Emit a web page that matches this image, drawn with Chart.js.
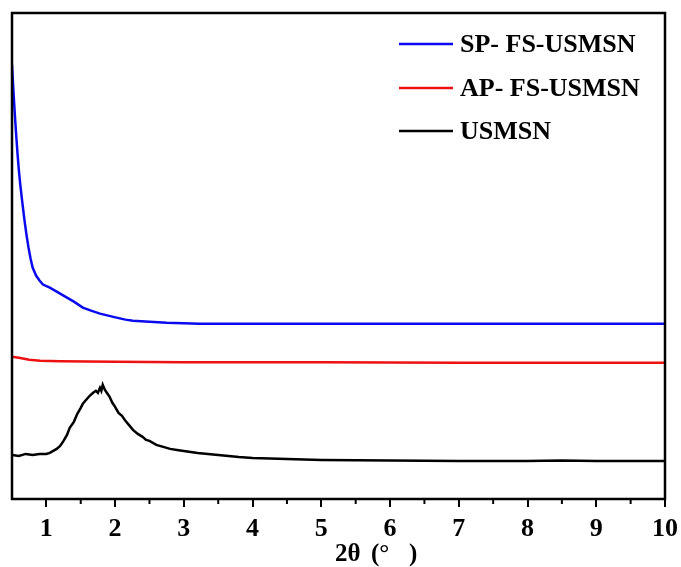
<!DOCTYPE html>
<html>
<head>
<meta charset="utf-8">
<script src="https://cdn.jsdelivr.net/npm/chart.js@4.4.1/dist/chart.umd.min.js"></script>
<style>
  html, body { margin: 0; padding: 0; background: #fff; }
  #wrap { width: 681px; height: 567px; position: relative; }
</style>
</head>
<body>
<div id="wrap"><canvas id="xrd"></canvas></div>
<script>
// 2θ (degrees) and intensity (a.u.)
const spX = [0.5, 0.52, 0.54, 0.56, 0.58, 0.6, 0.62, 0.65, 0.68, 0.71, 0.74, 0.77, 0.8, 0.85, 0.9, 0.95, 1.05, 1.15, 1.3, 1.4, 1.53, 1.65, 1.78, 1.9, 2.02, 2.15, 2.26, 2.5, 2.75, 3.0, 3.23, 3.6, 4.5, 6, 8, 10];
const spY = [433, 408, 385, 364, 345, 328, 314, 296, 279, 264, 251, 240, 231, 223, 218, 214, 211, 207, 201, 197, 191, 188, 185, 183, 181, 179, 178, 177, 176, 175.5, 175, 175, 175, 175, 175, 175];

const apX = [0.5, 0.6, 0.75, 0.91, 1.2, 2, 3, 5, 7, 10];
const apY = [142, 141, 139, 138, 137.5, 137, 136.5, 136.5, 136, 136];

const usX = [0.5, 0.6, 0.7, 0.8, 0.9, 1.0, 1.05, 1.1, 1.15, 1.2, 1.25, 1.3, 1.34, 1.4, 1.45, 1.5, 1.53, 1.58, 1.63, 1.68, 1.72, 1.75, 1.78, 1.8, 1.82, 1.85, 1.88, 1.92, 1.96, 2.0, 2.05, 2.1, 2.15, 2.2, 2.26, 2.33, 2.4, 2.45, 2.5, 2.6, 2.7, 2.8, 2.9, 3.0, 3.2, 3.5, 3.8, 4.0, 4.5, 5.0, 6.0, 7.0, 8.0, 8.5, 9.0, 10];
const usY = [44, 43, 45, 44, 45, 45, 46, 48, 50, 53, 58, 64, 71, 77, 85, 91, 95, 99, 103, 106, 108, 106, 111, 108, 114, 109, 106, 102, 96, 92, 86, 83, 78, 74, 69, 65, 62, 59, 58, 54, 52, 50, 49, 48, 46, 44, 42, 41, 40, 39, 38.5, 38, 38, 38.5, 38, 38];

const seriesNames = ["SP- FS-USMSN", "AP- FS-USMSN", "USMSN"];
const seriesColors = ["#0a0aee", "#ee1111", "#000000"];
const xTicks = [1, 2, 3, 4, 5, 6, 7, 8, 9, 10];
const xMinorTicks = [1.5, 2.5, 3.5, 4.5, 5.5, 6.5, 7.5, 8.5, 9.5];
const xTitleParts = ["2θ", "(°", ")"];

const toPoints = (xs, ys) => xs.map((x, i) => ({ x: x, y: ys[i] }));
const serif = "'Liberation Serif', 'Times New Roman', serif";

// frame, minor ticks, axis title and in-plot legend
const decorPlugin = {
  id: "decor",
  afterDraw(chart) {
    const { ctx, chartArea: a, scales } = chart;
    ctx.save();
    ctx.strokeStyle = "#000";
    ctx.lineWidth = 2.5;
    ctx.strokeRect(a.left, a.top, a.right - a.left, a.bottom - a.top);

    ctx.lineWidth = 2;
    xMinorTicks.forEach((v) => {
      const px = scales.x.getPixelForValue(v);
      ctx.beginPath();
      ctx.moveTo(px, a.bottom);
      ctx.lineTo(px, a.bottom + 5);
      ctx.stroke();
    });

    // x axis title, spaced like the original
    ctx.fillStyle = "#000";
    ctx.font = "bold 25px " + serif;
    ctx.textBaseline = "middle";
    ctx.textAlign = "left";
    [335, 371, 409].forEach((x, i) => ctx.fillText(xTitleParts[i], x, 555));

    ctx.font = "bold 26px " + serif;
    const rows = [44, 88, 131];
    chart.data.datasets.forEach((ds, i) => {
      ctx.strokeStyle = ds.borderColor;
      ctx.lineWidth = 2.5;
      ctx.beginPath();
      ctx.moveTo(399, rows[i]);
      ctx.lineTo(453, rows[i]);
      ctx.stroke();
      ctx.fillText(ds.label, 460, rows[i] + 1);
    });
    ctx.restore();
  },
};

new Chart(document.getElementById("xrd").getContext("2d"), {
  type: "line",
  data: {
    datasets: [
      { label: seriesNames[0], data: toPoints(spX, spY), borderColor: seriesColors[0] },
      { label: seriesNames[1], data: toPoints(apX, apY), borderColor: seriesColors[1] },
      { label: seriesNames[2], data: toPoints(usX, usY), borderColor: seriesColors[2] },
    ],
  },
  options: {
    responsive: true,
    maintainAspectRatio: false,
    animation: false,
    layout: { padding: { left: 12, top: 13, right: 16, bottom: 0 } },
    elements: {
      point: { radius: 0 },
      line: { borderWidth: 2.5, tension: 0 },
    },
    plugins: {
      legend: { display: false },
      tooltip: { enabled: false },
    },
    scales: {
      x: {
        type: "linear",
        min: 0.5,
        max: 10,
        afterBuildTicks: (scale) => {
          scale.ticks = xTicks.map((v) => ({ value: v }));
        },
        afterFit: (scale) => {
          scale.paddingLeft = 0;
          scale.paddingRight = 0;
          scale.height = 68;
        },
        border: { display: false },
        grid: {
          drawOnChartArea: false,
          drawTicks: true,
          tickLength: 8,
          color: "#000",
          lineWidth: 2,
        },
        ticks: {
          color: "#000",
          padding: 9,
          maxRotation: 0,
          autoSkip: false,
          font: { family: serif, size: 26, weight: "bold", lineHeight: 1 },
        },
      },
      y: {
        display: false,
        min: 0,
        max: 485,
      },
    },
  },
  plugins: [decorPlugin],
});
</script>
</body>
</html>
